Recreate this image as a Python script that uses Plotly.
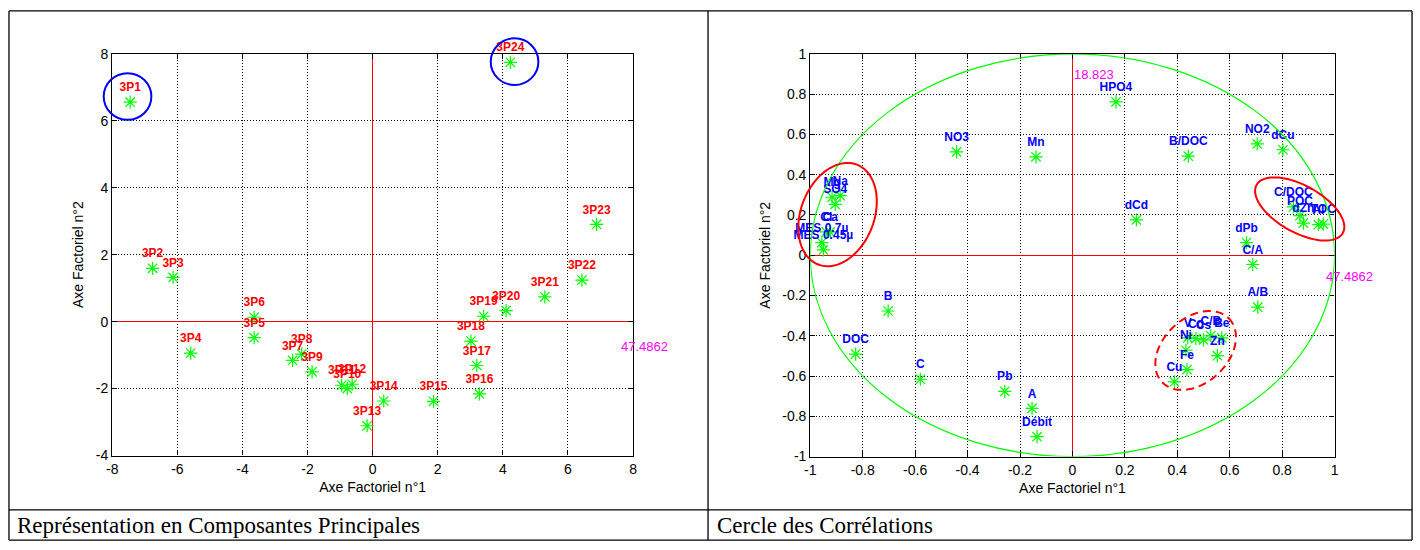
import numpy as np
import plotly.graph_objects as go

# ---------------- data ----------------
pc_labels = ["3P1", "3P2", "3P3", "3P4", "3P5", "3P6", "3P7", "3P8", "3P9", "3P10", "3P11", "3P12",
             "3P13", "3P14", "3P15", "3P16", "3P17", "3P18", "3P19", "3P20", "3P21", "3P22", "3P23", "3P24"]
pc_x = [-7.45, -6.76, -6.13, -5.59, -3.64, -3.64, -2.46, -2.18, -1.86, -0.78, -0.95, -0.63,
        -0.17, 0.34, 1.87, 3.28, 3.20, 3.02, 3.41, 4.10, 5.29, 6.43, 6.88, 4.23]
pc_y = [6.55, 1.59, 1.32, -0.94, -0.48, 0.13, -1.16, -0.97, -1.50, -2.00, -1.90, -1.87,
        -3.11, -2.37, -2.38, -2.16, -1.31, -0.58, 0.16, 0.33, 0.74, 1.24, 2.90, 7.74]

var_labels = ["MES 0.45µ", "MES 0.7µ", "Cl", "Ca", "SO4", "Mg", "Na", "NO3", "Mn", "HPO4", "B/DOC",
              "NO2", "dCu", "dCd", "dPb", "C/A", "A/B", "C/DOC", "POC", "dZn", "Al", "TOC",
              "V", "Co", "Cs", "C/B", "Be", "Ni", "Zn", "Fe", "Cu", "B", "DOC", "C", "Pb", "A", "Débit"]
var_x = [-0.950, -0.956, -0.939, -0.924, -0.905, -0.917, -0.886, -0.442, -0.139, 0.166, 0.442,
         0.705, 0.803, 0.244, 0.664, 0.688, 0.707, 0.843, 0.868, 0.881, 0.938, 0.957,
         0.440, 0.471, 0.500, 0.528, 0.570, 0.433, 0.553, 0.437, 0.389, -0.703, -0.827, -0.580, -0.258, -0.154, -0.135]
var_y = [0.027, 0.063, 0.116, 0.116, 0.253, 0.288, 0.296, 0.513, 0.489, 0.762, 0.492,
         0.553, 0.524, 0.176, 0.063, -0.046, -0.258, 0.240, 0.197, 0.160, 0.152, 0.155,
         -0.410, -0.414, -0.420, -0.400, -0.410, -0.472, -0.499, -0.568, -0.629, -0.277, -0.491, -0.616, -0.676, -0.761, -0.901]

pc_ticks = [-8, -6, -4, -2, 0, 2, 4, 6, 8]
pc_ytick = [-4, -2, 0, 2, 4, 6, 8]
cor_ticks = [-1, -0.8, -0.6, -0.4, -0.2, 0, 0.2, 0.4, 0.6, 0.8, 1]

inertia1 = "47.4862"
inertia2 = "18.823"

captions = ["Représentation en Composantes Principales", "Cercle des Corrélations"]

# ---------------- layout geometry (pixels) ----------------
W, H = 1420, 550
L_px = (107, 631.5, 47, 461)     # left, right, top, bottom
R_px = (810, 1338, 47.3, 462)
L_rng = ((-8, 8), (-4, 8))
R_rng = ((-1, 1), (-1, 1))


def to_paper(x, y, box, rng):
    x0, x1, t, b = box
    (xa, xb), (ya, yb) = rng
    px = x0 + (x - xa) / (xb - xa) * (x1 - x0)
    py = b - (y - ya) / (yb - ya) * (b - t)
    return px, py


def tick_txt(v):
    return "%g" % v


GREEN = "#00ff00"
fig = go.Figure()

fig.add_trace(go.Scatter(
    x=pc_x, y=pc_y, mode="markers+text", text=pc_labels, textposition="top center",
    marker=dict(symbol="asterisk-open", size=11, color=GREEN, line=dict(color=GREEN, width=1.2)),
    textfont=dict(color="#ff0000", size=12, family="Liberation Sans", weight="bold"),
    cliponaxis=False, xaxis="x", yaxis="y", showlegend=False, hoverinfo="skip"))

fig.add_trace(go.Scatter(
    x=var_x, y=var_y, mode="markers+text", text=var_labels, textposition="top center",
    marker=dict(symbol="asterisk-open", size=11, color=GREEN, line=dict(color=GREEN, width=1.2)),
    textfont=dict(color="#0000ff", size=12, family="Liberation Sans", weight="bold"),
    cliponaxis=False, xaxis="x2", yaxis="y2", showlegend=False, hoverinfo="skip"))

axis_common = dict(showgrid=True, gridcolor="black", griddash="1px,2px", gridwidth=1,
                   zeroline=True, zerolinecolor="#ff0000", zerolinewidth=1.2,
                   showline=True, linecolor="black", linewidth=1.3, mirror="ticks",
                   ticks="inside", ticklen=5, tickcolor="black",
                   tickfont=dict(family="Liberation Sans", size=14, color="black"),
                   title_font=dict(family="Liberation Sans", size=14, color="black"))

fig.update_layout(
    width=W, height=H, margin=dict(l=0, r=0, t=0, b=0),
    paper_bgcolor="white", plot_bgcolor="white",
    xaxis=dict(domain=[L_px[0] / W, L_px[1] / W], range=list(L_rng[0]), anchor="y",
               tickvals=pc_ticks, ticktext=[tick_txt(v) for v in pc_ticks],
               title=dict(text="Axe Factoriel n°1", standoff=6), **axis_common),
    yaxis=dict(domain=[1 - L_px[3] / H, 1 - L_px[2] / H], range=list(L_rng[1]), anchor="x",
               tickvals=pc_ytick, ticktext=[tick_txt(v) for v in pc_ytick],
               title=dict(text="Axe Factoriel n°2", standoff=8), **axis_common),
    xaxis2=dict(domain=[R_px[0] / W, R_px[1] / W], range=list(R_rng[0]), anchor="y2",
                tickvals=cor_ticks, ticktext=[tick_txt(v) for v in cor_ticks],
                title=dict(text="Axe Factoriel n°1", standoff=6), **axis_common),
    yaxis2=dict(domain=[1 - R_px[3] / H, 1 - R_px[2] / H], range=list(R_rng[1]), anchor="x2",
                tickvals=cor_ticks, ticktext=[tick_txt(v) for v in cor_ticks],
                title=dict(text="Axe Factoriel n°2", standoff=8), **axis_common),
)

shapes = []
# unit correlation circle
shapes.append(dict(type="circle", xref="x2", yref="y2", x0=-1, y0=-1, x1=1, y1=1,
                   line=dict(color=GREEN, width=1.2), layer="above"))


def ellipse_path(cx, cy, a, b, ang_deg):
    t = np.linspace(0, 2 * np.pi, 90)
    ang = np.radians(ang_deg)
    ex = a * np.cos(t)
    ey = b * np.sin(t)
    px = cx + ex * np.cos(ang) - ey * np.sin(ang)
    py = cy + ex * np.sin(ang) + ey * np.cos(ang)
    pts = ["%.5f,%.5f" % (x / W, 1 - y / H) for x, y in zip(px, py)]
    return "M" + " L".join(pts) + " Z"


# blue circles highlighting 3P1 and 3P24 (centre in data, radius in px)
blue_circles = [((-7.53, 6.72), 24), ((4.36, 7.76), 24)]
for (cx, cy), r in blue_circles:
    px, py = to_paper(cx, cy, L_px, L_rng)
    shapes.append(dict(type="circle", xref="paper", yref="paper",
                       x0=(px - r) / W, x1=(px + r) / W, y0=1 - (py + r) / H, y1=1 - (py - r) / H,
                       line=dict(color="#0000ff", width=2)))

# red ellipses on correlation circle: centre (data), semi axes (px), angle (deg, screen)
red_ellipses = [((-0.896, 0.202), 37, 55, 20, "solid"),
                ((0.867, 0.230), 50, 24, 30, "solid"),
                ((0.470, -0.473), 47, 33, -45, "dash")]
for (cx, cy), a, b, ang, dash in red_ellipses:
    px, py = to_paper(cx, cy, R_px, R_rng)
    shapes.append(dict(type="path", xref="paper", yref="paper",
                       path=ellipse_path(px, py, a, b, ang),
                       line=dict(color="#ff0000", width=2, dash=("8px,5px" if dash == "dash" else "solid"))))

# table frame
frame = [(3, 3, 1416, 3), (3, 548, 1416, 548), (3, 3, 3, 548), (1416, 3, 1416, 548),
         (707, 3, 707, 548), (3, 517, 1416, 517)]
for x0, y0, x1, y1 in frame:
    shapes.append(dict(type="line", xref="paper", yref="paper",
                       x0=x0 / W, y0=1 - y0 / H, x1=x1 / W, y1=1 - y1 / H,
                       line=dict(color="black", width=1.3)))
fig.update_layout(shapes=shapes)

MAG = "#ff00ff"
ann = []
ann.append(dict(x=0, y=8.54, xref="x", yref="y", text=inertia2, showarrow=False,
                xanchor="left", yanchor="middle", font=dict(color=MAG, size=13, family="Liberation Sans")))
ann.append(dict(x=7.58, y=-0.73, xref="x", yref="y", text=inertia1, showarrow=False,
                xanchor="left", yanchor="middle", font=dict(color=MAG, size=13, family="Liberation Sans")))
ann.append(dict(x=0, y=0.899, xref="x2", yref="y2", text=inertia2, showarrow=False,
                xanchor="left", yanchor="middle", font=dict(color=MAG, size=13, family="Liberation Sans")))
ann.append(dict(x=0.96, y=-0.105, xref="x2", yref="y2", text=inertia1, showarrow=False,
                xanchor="left", yanchor="middle", font=dict(color=MAG, size=13, family="Liberation Sans")))
ann.append(dict(x=9 / W, y=1 - 533 / H, xref="paper", yref="paper", text=captions[0], showarrow=False,
                xanchor="left", yanchor="middle", font=dict(color="black", size=23, family="Liberation Serif")))
ann.append(dict(x=714 / W, y=1 - 533 / H, xref="paper", yref="paper", text=captions[1], showarrow=False,
                xanchor="left", yanchor="middle", font=dict(color="black", size=23, family="Liberation Serif")))
fig.update_layout(annotations=ann)

fig.write_html("out.html", config={"displayModeBar": False},
               post_script="document.body.style.margin='0';document.body.style.padding='0';")
